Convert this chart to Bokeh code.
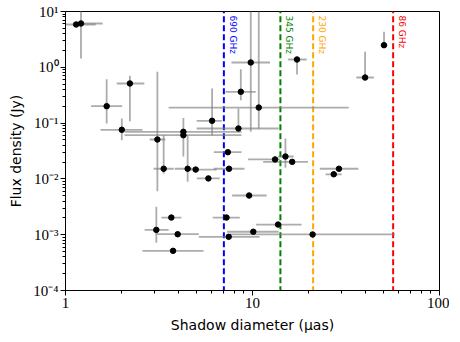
import math
from bokeh.plotting import figure
from bokeh.models import ColumnDataSource, FixedTicker, CustomJSTickFormatter
from bokeh.core.properties import value
from bokeh.embed import file_html
from bokeh.resources import INLINE

NAN = float("nan")

# Shadow diameter (uas) and flux density (Jy) with error ranges
diam = [1.14, 1.21, 1.66, 2.21, 2.00, 3.10, 4.27, 4.27, 3.35, 4.50, 4.97, 6.08, 5.81,
        8.41, 8.66, 9.79, 10.8, 7.38, 7.49, 9.59, 13.2, 15.0, 16.3, 17.3, 29.0, 27.2,
        40.0, 50.5, 3.68, 3.06, 3.98, 3.76, 7.26, 7.46, 10.1, 13.7, 20.96]
flux = [5.85, 6.1, 0.201, 0.513, 0.0759, 0.0508, 0.0698, 0.0607, 0.0152, 0.0152, 0.0147,
        0.110, 0.0102, 0.080, 0.364, 1.22, 0.190, 0.0301, 0.0152, 0.00504, 0.0223, 0.0252,
        0.0202, 1.38, 0.0152, 0.0121, 0.656, 2.49, 0.00203, 0.00122, 0.00102, 0.000514,
        0.00203, 0.000917, 0.00113, 0.00152, 0.00101]
diam_lo = [1.0, 1.10, 1.37, 1.88, 1.54, 2.82, 2.07, 2.07, 2.96, 3.84, 4.6, 5.03, 5.04,
           5.03, 7.17, 7.72, 3.56, 6.21, 6.21, 7.78, 9.47, 13.7, 11.4, 15.5, 22.9, 24.6,
           35.9, 48.5, 3.26, 2.65, 3.06, 2.58, 6.13, 5.16, 7.31, 10.45, 7.56]
diam_hi = [1.45, 1.58, 2.01, 2.64, 2.58, 3.42, 8.73, 8.73, 3.79, 5.0, 6.44, 6.85, 6.68,
           13.8, 10.4, 12.4, 32.7, 8.73, 9.06, 11.9, 14.0, 16.6, 19.8, 19.5, 36.8, 30.0,
           44.6, 52.6, 4.17, 3.56, 5.16, 5.47, 8.55, 10.9, 13.8, 18.3, 57.8]
flux_lo = [NAN, 1.44, 0.0984, 0.108, 0.0494, 0.00602, 0.0252, NAN, 0.0125, 0.00887, NAN,
           0.0607, NAN, 0.080, 0.257, 0.0698, 0.080, NAN, NAN, NAN, NAN, 0.0158, NAN,
           0.743, NAN, NAN, 0.656, 2.49, NAN, 0.000716, NAN, NAN, NAN, NAN, NAN, NAN, NAN]
flux_hi = [NAN, 20.0, 0.612, 0.704, 0.121, 0.83, 0.124, NAN, 0.0607, 0.0607, NAN,
           0.417, NAN, 0.183, 0.925, 20.0, 20.0, NAN, NAN, NAN, NAN, 0.053, NAN,
           1.38, NAN, NAN, 1.90, 4.33, NAN, 0.00316, NAN, NAN, NAN, NAN, NAN, NAN, NAN]

# Resolution limits
freq_labels = ["690 GHz", "345 GHz", "230 GHz", "86 GHz"]
freq_diam = [7.03, 14.1, 21.1, 56.5]
freq_colors = ["blue", "green", "orange", "red"]

x_major = [1, 10, 100]
y_major = [1e-4, 1e-3, 1e-2, 1e-1, 1, 10]

p = figure(x_axis_type="log", y_axis_type="log", x_range=(1, 100), y_range=(1e-4, 10),
           frame_width=374, frame_height=279, min_border_left=65, min_border_right=10,
           min_border_top=11, min_border_bottom=40,
           output_backend="svg", toolbar_location=None, tools="")
p.grid.visible = False
p.outline_line_color = "black"
p.outline_line_width = 1
p.background_fill_color = "white"
p.border_fill_color = "white"

# vertical resolution lines
for d, c in zip(freq_diam, freq_colors):
    p.segment(x0=[d], y0=[1e-5], x1=[d], y1=[100], line_color=c, line_width=2,
              line_dash="6 3")

src = ColumnDataSource(dict(x=diam, y=flux, xlo=diam_lo, xhi=diam_hi))
p.segment(x0="xlo", y0="y", x1="xhi", y1="y", source=src, line_color="gray",
          line_alpha=0.65, line_width=1.8)
ye = [(d, lo, hi) for d, lo, hi in zip(diam, flux_lo, flux_hi)
      if not (math.isnan(lo) or math.isnan(hi))]
ysrc = ColumnDataSource(dict(x=[e[0] for e in ye], lo=[e[1] for e in ye],
                             hi=[e[2] for e in ye]))
p.segment(x0="x", y0="lo", x1="x", y1="hi", source=ysrc, line_color="gray",
          line_alpha=0.65, line_width=1.8)
p.scatter(x="x", y="y", source=src, size=5.5, fill_color="black", line_color="black")

tsrc = ColumnDataSource(dict(x=freq_diam, y=[10] * 4, t=freq_labels, c=freq_colors))
p.text(x="x", y="y", text="t", source=tsrc, angle=-math.pi / 2, text_color="c",
       text_font=value("DejaVu Sans"), text_font_size="9px", text_align="left",
       text_baseline="bottom", x_offset=4, y_offset=4)

# axes
xminor = [m * 10 ** k for k in range(0, 2) for m in range(2, 10)]
yminor = [m * 10.0 ** k for k in range(-4, 1) for m in range(2, 10)]
p.xaxis.ticker = FixedTicker(ticks=x_major, minor_ticks=xminor)
p.yaxis.ticker = FixedTicker(ticks=y_major, minor_ticks=yminor)
p.xaxis.formatter = CustomJSTickFormatter(code="return String(Math.round(tick));")
p.yaxis.formatter = CustomJSTickFormatter(code="""
const e = Math.round(Math.log10(tick));
const sup = {'-':'\u207b','0':'\u2070','1':'\u00b9','2':'\u00b2','3':'\u00b3','4':'\u2074',
             '5':'\u2075','6':'\u2076','7':'\u2077','8':'\u2078','9':'\u2079'};
return '10' + String(e).split('').map(c => sup[c]).join('');
""")
for ax in (p.xaxis[0], p.yaxis[0]):
    ax.axis_line_color = "black"
    ax.major_tick_line_color = "black"
    ax.minor_tick_line_color = "black"
    ax.major_tick_in = 0
    ax.major_tick_out = 5
    ax.minor_tick_in = 0
    ax.minor_tick_out = 3
    ax.major_label_text_font = "Liberation Serif"
    ax.major_label_text_font_size = "15px"
    ax.major_label_text_color = "black"
    ax.axis_label_text_font = "DejaVu Sans"
    ax.axis_label_text_font_size = "14px"
    ax.axis_label_text_font_style = "normal"
    ax.axis_label_text_color = "black"
    ax.major_label_standoff = 2
    ax.axis_label_standoff = 6

p.xaxis.axis_label = "Shadow diameter (\u03bcas)"
p.yaxis.axis_label = "Flux density (Jy)"

open("out.html", "w").write(file_html(p, INLINE))
